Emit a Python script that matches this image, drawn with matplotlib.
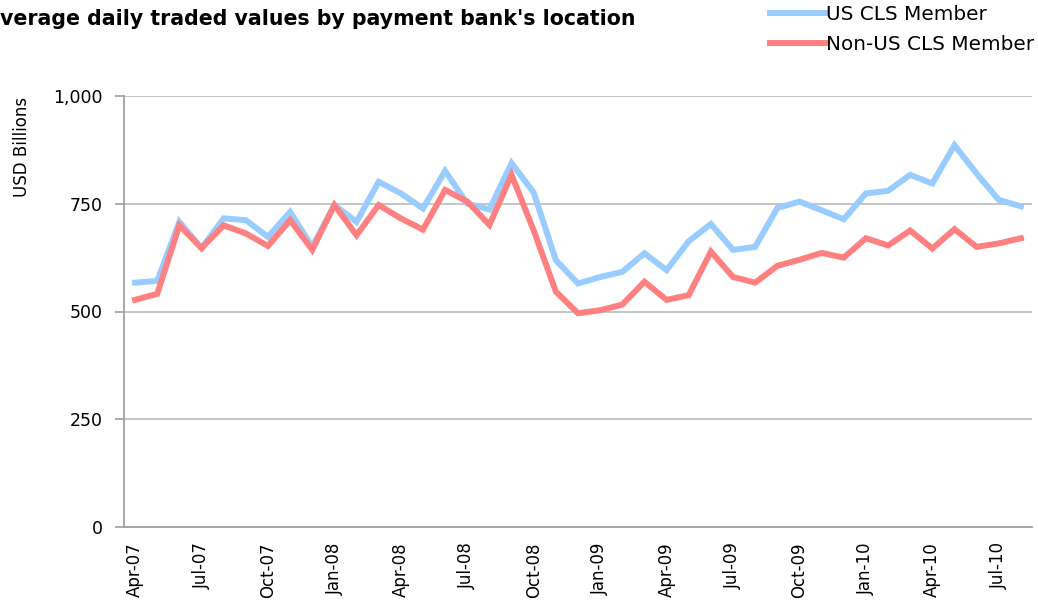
import matplotlib
matplotlib.use("Agg")
import matplotlib.pyplot as plt
import numpy as np
import pandas as pd
from matplotlib.ticker import StrMethodFormatter

# monthly categories Apr-07 .. Aug-10
months = pd.date_range("2007-04-01", periods=41, freq="MS").strftime("%b-%y").tolist()

us_cls = [567, 571, 708, 647, 716, 712, 673, 731, 650, 747,
          708, 801, 774, 739, 826, 750, 737, 844, 776, 619,
          565, 580, 592, 635, 596, 663, 703, 643, 650, 740,
          755, 735, 714, 774, 780, 817, 797, 886, 820, 759, 744]
non_us_cls = [527, 541, 700, 647, 700, 681, 652, 712, 643, 747,
              677, 747, 716, 690, 782, 755, 701, 817, 688, 546,
              496, 503, 516, 569, 527, 538, 639, 580, 567, 606,
              620, 636, 625, 670, 653, 688, 646, 691, 650, 658, 670]

y_ticks = [0, 250, 500, 750, 1000]
title = "verage daily traded values by payment bank's location"
series_names = ["US CLS Member", "Non-US CLS Member"]
colors = ["#99CCFF", "#FF8080"]

fig = plt.figure(figsize=(10.38, 6.0), dpi=100)
ax = fig.add_axes([124 / 1038, 1 - 527 / 600, (1032 - 124) / 1038, (527 - 96) / 600])

x = np.arange(len(months))
ax.plot(x, us_cls, color=colors[0], lw=4.3, label=series_names[0], solid_joinstyle="miter")
ax.plot(x, non_us_cls, color=colors[1], lw=4.3, label=series_names[1], solid_joinstyle="miter")

ax.set_xlim(-0.5, len(months) - 0.5)
ax.set_ylim(0, 1000)
ax.set_yticks(y_ticks)
ax.yaxis.set_major_formatter(StrMethodFormatter("{x:,.0f}"))
ax.grid(axis="y", color="#C0C0C0", lw=1.3)
ax.set_axisbelow(True)

ax.set_xticks(x[::3])
ax.set_xticklabels(months[::3], rotation=90, fontsize=12)
ax.tick_params(axis="x", length=0, pad=11)
ax.tick_params(axis="y", length=6.5, width=1.2, color="#A0A0A0", pad=9, labelsize=12.5)

for side in ["top", "right"]:
    ax.spines[side].set_visible(False)
for side in ["left", "bottom"]:
    ax.spines[side].set_color("#A0A0A0")
    ax.spines[side].set_linewidth(1.3)

fig.text(22 / 1038, 1 - 147 / 600, "USD Billions", rotation=90, ha="center", va="center", fontsize=12)
fig.text(0, 1 - 25 / 600, title, ha="left", va="baseline", fontsize=14.8, fontweight="bold")

fig.legend(loc="upper left", bbox_to_anchor=(770 / 1038, 0.991), bbox_transform=fig.transFigure,
           frameon=False, fontsize=14.4, handlelength=2.75, handletextpad=0.05,
           borderpad=0, borderaxespad=0, labelspacing=0.55)

fig.savefig("out.png", dpi=100)
